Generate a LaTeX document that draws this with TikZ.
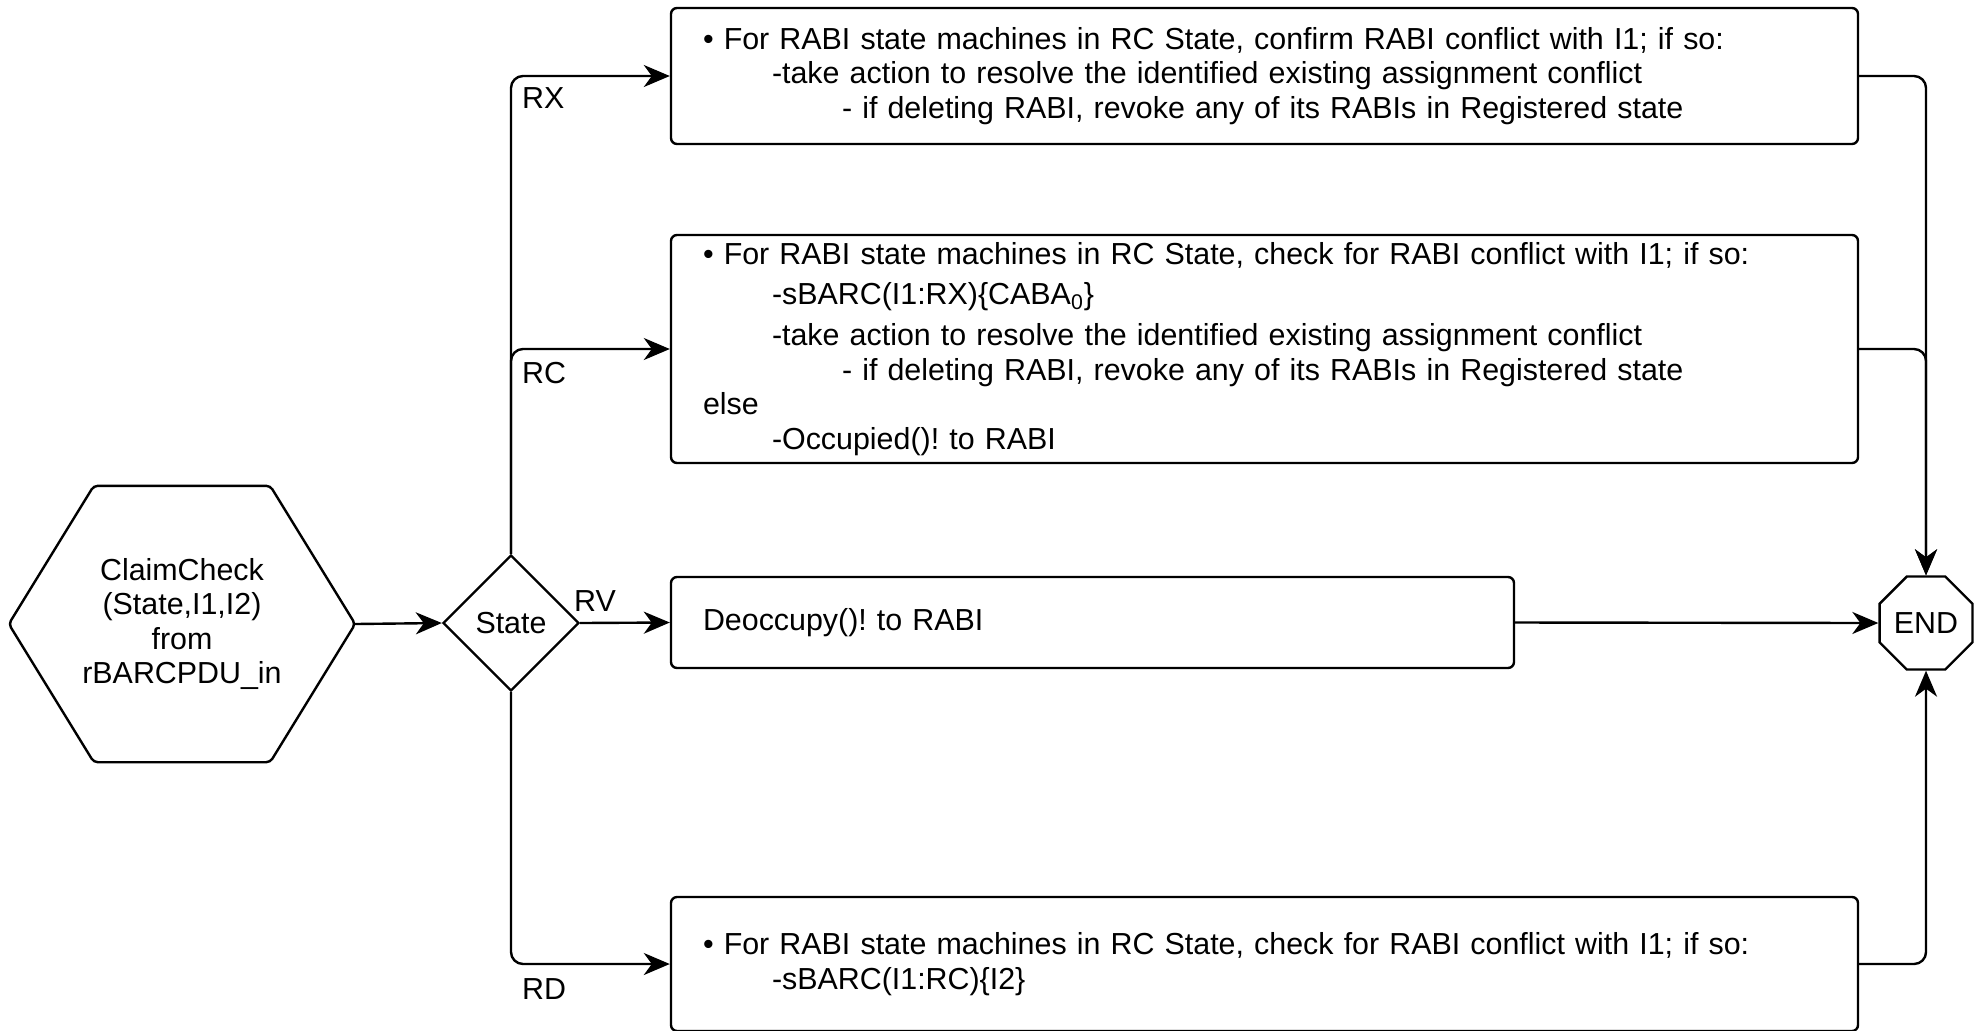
\documentclass[tikz,border=0pt]{standalone}
\usepackage{fontspec}
\setmainfont{Liberation Sans}
\usetikzlibrary{arrows.meta}
\usetikzlibrary{shapes.geometric}
\frenchspacing

\begin{document}
\begin{tikzpicture}[x=0.5pt, y=-0.5pt, line width=1.2pt,
		every node/.style={font=\fontsize{15.2pt}{17.3pt}\selectfont, inner sep=0pt},
		box/.style={draw, rounded corners=3pt, align=left, inner xsep=16pt, text width=#1},
		flow/.style={-{Stealth[length=13pt, width=11pt, inset=4pt]}, rounded corners=6pt},
		lab/.style={anchor=west}]
			\useasboundingbox (0,0) rectangle (1980,1030);
			% start, decision and end
			\node[align=center, minimum width=172pt, minimum height=137pt] (claim) at (182,624) {ClaimCheck\\(State,I1,I2)\\from\\rBARCPDU\_in};
			\draw[rounded corners=2pt] ([xshift=42.5pt]claim.north west) -- ([xshift=-42.5pt]claim.north east) -- (claim.east)
				-- ([xshift=-42.5pt]claim.south east) -- ([xshift=42.5pt]claim.south west) -- (claim.west) -- cycle;
			\node[draw, diamond, minimum width=68pt, minimum height=68pt] (state) at (511,623) {State};
			\node[draw, regular polygon, regular polygon sides=8, minimum size=50.3pt] (end) at (1926,623) {END};
			% action boxes
			\node[box=561.5pt, minimum height=68pt] (rx) at (1264.5,76) {%
				• For RABI state machines in RC State, confirm RABI conflict with I1; if so:\\
				\hspace*{34.5pt}-take action to resolve the identified existing assignment conflict\\
				\hspace*{69.5pt}- if deleting RABI, revoke any of its RABIs in Registered state};
			\node[box=561.5pt, minimum height=114pt] (rc) at (1264.5,349) {%
				• For RABI state machines in RC State, check for RABI conflict with I1; if so:\\[3pt]
				\hspace*{34.5pt}-sBARC(I1:RX)\{CABA\textsubscript{0}\}\\[3pt]
				\hspace*{34.5pt}-take action to resolve the identified existing assignment conflict\\
				\hspace*{69.5pt}- if deleting RABI, revoke any of its RABIs in Registered state\\
				else\\
				\hspace*{34.5pt}-Occupied()! to RABI};
			\node[box=389.5pt, minimum height=45.5pt] (rv) at (1092.5,622.5) {Deoccupy()! to RABI};
			\node[box=561.5pt, minimum height=67pt] (rd) at (1264.5,964) {%
				• For RABI state machines in RC State, check for RABI conflict with I1; if so:\\
				\hspace*{34.5pt}-sBARC(I1:RC)\{I2\}};
			% connectors
			\draw[flow] (claim.east) -- (state.west);
			\foreach \b in {rx, rc}
			{
				\draw[flow] (state.north) |- (\b.west);
				\draw[flow] (\b.east) -| (end.north);
			}
			\draw[flow] (state.east) -- (rv.west);
			\draw[flow] (rv.east) -- (end.west);
			\draw[flow] (state.south) |- (rd.west);
			\draw[flow] (rd.east) -| (end.south);
			% branch labels
			\node[lab] (lrx) at (521,98) {RX};
			\node[lab] (lrc) at (521,373) {RC};
			\node[lab] (lrv) at (573,601) {RV};
			\node[lab] (lrd) at (521,989) {RD};
		\end{tikzpicture}
\end{document}
